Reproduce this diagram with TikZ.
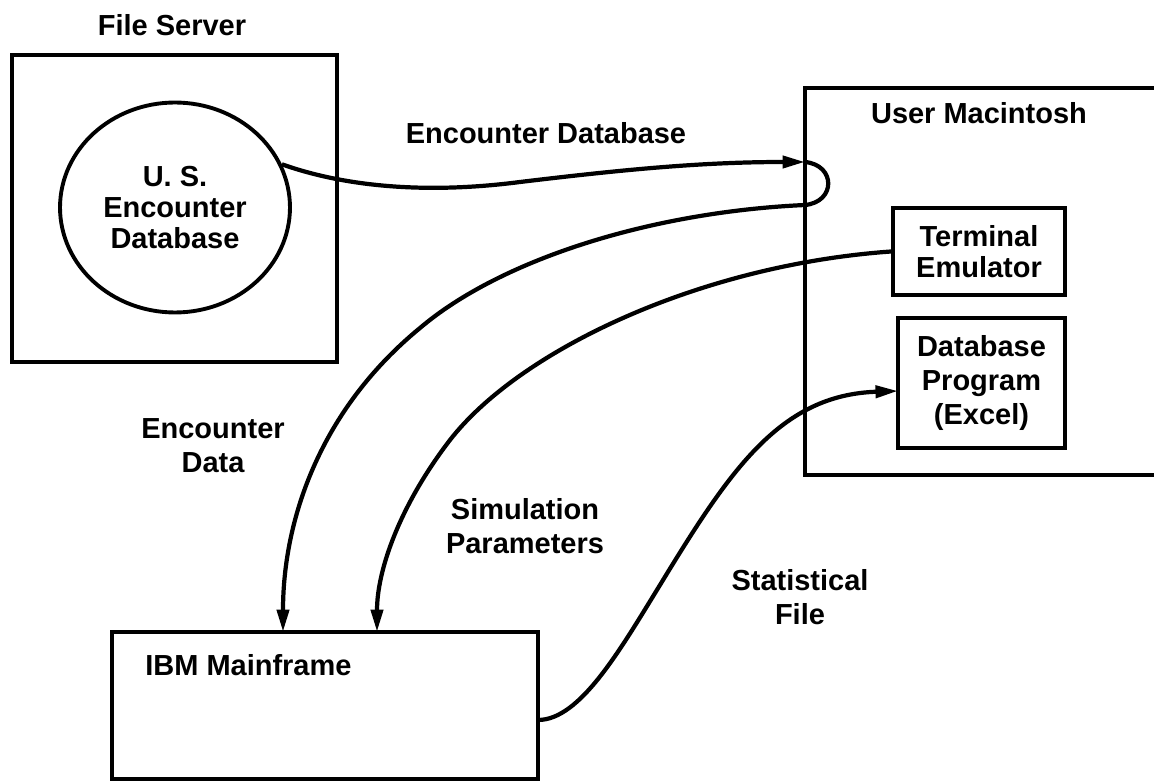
\documentclass[tikz,border=0pt]{standalone}
\usepackage{fontspec}
\setmainfont{Liberation Sans}
\usetikzlibrary{arrows.meta,shapes.geometric}
\tikzset{
    lbl/.style={font=\bfseries\fontsize{16.5pt}{19.5pt}\selectfont, align=center, inner sep=0pt},
    tight/.style={lbl, font=\bfseries\fontsize{16.5pt}{17.5pt}\selectfont},
    box/.style={draw, rectangle, line width=2.2pt, inner sep=0pt},
    flow/.style={line width=2.4pt},
    tip/.style={-{Triangle[length=0.45cm, width=0.24cm]}}
}

\begin{document}
\begin{tikzpicture}[x=0.02cm, y=-0.02cm]
        \useasboundingbox (0,0) rectangle (1154,783);
        \clip (0,0) rectangle (1154,783);
        % boxes
        \node[box, minimum width=6.5cm, minimum height=6.14cm] (fileserver) at (174.5,208.5) {};
        \node[draw, ellipse, line width=2.2pt, inner sep=0pt, minimum width=4.6cm, minimum height=4.2cm,
              tight] (usdb) at (175,207.5) {U. S.\\Encounter\\Database};
        \node[box, minimum width=7.9cm, minimum height=7.74cm] (mac) at (1002.5,281.5) {};
        \node[box, tight, minimum width=3.44cm, minimum height=1.74cm] (terminal) at (979,251.5) {Terminal\\Emulator};
        \node[box, lbl, minimum width=3.34cm, minimum height=2.6cm] (dbprog) at (981.5,383) {Database\\Program\\(Excel)};
        \node[box, minimum width=8.52cm, minimum height=2.94cm] (ibm) at (325,705.5) {};
        % titles
        \node[lbl] (fstitle) at (172,25) {File Server};
        \node[lbl] (mactitle) at (979,113) {User Macintosh};
        \node[lbl, anchor=west] (ibmtitle) at (145,665) {IBM Mainframe};
        % loop points on the Macintosh edge
        \coordinate (loopin) at (805,162);
        \coordinate (loopout) at (805,205);
        \coordinate (ibmin1) at (283,632);
        \coordinate (ibmin2) at (377,632);
        \coordinate (ibmout) at (538,720);
        \coordinate (dbin) at (898,391);
        % connectors
        \draw[flow, tip] (usdb.22) .. controls (340,185) and (420,195) .. (520,182)
            .. controls (620,170) and (700,162) .. (loopin);
        \draw[flow] (loopin) .. controls (836,165) and (836,202) .. (loopout);
        \draw[flow, tip] (loopout) .. controls (650,212) and (500,260) .. (420,328)
            .. controls (320,410) and (283,520) .. (ibmin1);
        \draw[flow, tip] (terminal.west) .. controls (700,265) and (520,350) .. (450,440)
            .. controls (400,505) and (377,570) .. (ibmin2);
        \draw[flow, tip] (ibmout) .. controls (580,720) and (620,650) .. (660,585)
            .. controls (730,470) and (780,395) .. (dbin);
        % connector labels
        \node[lbl] (dblabel) at (546,133) {Encounter Database};
        \node[lbl] (datalabel) at (213,446) {Encounter\\Data};
        \node[lbl] (simlabel) at (525,526) {Simulation\\Parameters};
        \node[lbl] (statlabel) at (800,597) {Statistical\\File};
    \end{tikzpicture}
\end{document}
